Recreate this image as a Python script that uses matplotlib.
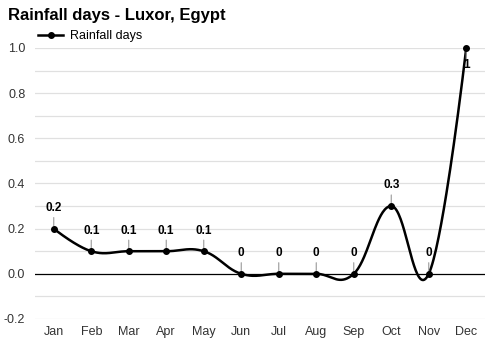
import numpy as np
import matplotlib
matplotlib.use("Agg")
import matplotlib.pyplot as plt
from matplotlib.lines import Line2D

plt.rcParams['font.family'] = ['Liberation Sans', 'DejaVu Sans']

months = ["Jan", "Feb", "Mar", "Apr", "May", "Jun", "Jul", "Aug", "Sep", "Oct", "Nov", "Dec"]
rain_days = [0.2, 0.1, 0.1, 0.1, 0.1, 0, 0, 0, 0, 0.3, 0, 1]
labels = ["0.2", "0.1", "0.1", "0.1", "0.1", "0", "0", "0", "0", "0.3", "0", "1"]
yticks = [-0.2, 0.0, 0.2, 0.4, 0.6, 0.8, 1.0]


def spline(xs, ys, n=40):
    xs = np.asarray(xs, float); ys = np.asarray(ys, float)
    s = 1.5; d = s + 1
    N = len(xs)
    lc = [(xs[i], ys[i]) for i in range(N)]
    rc = [(xs[i], ys[i]) for i in range(N)]
    for i in range(1, N - 1):
        lx = (s * xs[i] + xs[i - 1]) / d
        ly = (s * ys[i] + ys[i - 1]) / d
        rx = (s * xs[i] + xs[i + 1]) / d
        ry = (s * ys[i] + ys[i + 1]) / d
        corr = (ry - ly) * (rx - xs[i]) / (rx - lx) + ys[i] - ry
        lc[i] = (lx, ly + corr)
        rc[i] = (rx, ry + corr)
    px, py = [], []
    t = np.linspace(0, 1, n)
    for i in range(N - 1):
        p0 = np.array([xs[i], ys[i]]); p1 = np.array(rc[i])
        p2 = np.array(lc[i + 1]); p3 = np.array([xs[i + 1], ys[i + 1]])
        pts = ((1 - t) ** 3)[:, None] * p0 + (3 * (1 - t) ** 2 * t)[:, None] * p1 \
            + (3 * (1 - t) * t ** 2)[:, None] * p2 + (t ** 3)[:, None] * p3
        px.extend(pts[:, 0]); py.extend(pts[:, 1])
    return np.array(px), np.array(py)


fig = plt.figure(figsize=(5, 3.5), dpi=100)
ax = fig.add_axes([0.07, 0.0886, 0.90, 0.7744])

x = np.arange(len(months))
ax.set_xlim(-0.5, len(months) - 0.5)
ax.set_ylim(-0.2, 1.0)

for v in np.arange(-0.2, 1.01, 0.1):
    if abs(v) < 1e-9:
        continue
    ax.axhline(v, color="#e0e0e0", lw=0.9, zorder=0)
ax.axhline(0, color="#000000", lw=0.9, zorder=1)

sx, sy = spline(x, rain_days)
ax.plot(sx, sy, color="black", lw=1.8, zorder=3, clip_on=False)
ax.plot(x, rain_days, 'o', color="black", ms=4, zorder=4, clip_on=False)

for xi, yi, lab in zip(x, rain_days, labels):
    if yi >= 0.95:
        ax.annotate("", xy=(xi, yi), xytext=(0, -10), textcoords="offset points",
                    arrowprops=dict(arrowstyle="-", color="#999999", lw=0.8), annotation_clip=False)
        ax.annotate(lab, xy=(xi, yi), xytext=(0, -8), textcoords="offset points",
                    ha="center", va="top", fontsize=8.5, fontweight="bold", color="black",
                    annotation_clip=False, zorder=5)
    else:
        ax.annotate("", xy=(xi, yi), xytext=(0, 10), textcoords="offset points",
                    arrowprops=dict(arrowstyle="-", color="#999999", lw=0.8), annotation_clip=False)
        ax.annotate(lab, xy=(xi, yi), xytext=(0, 10.5), textcoords="offset points",
                    ha="center", va="bottom", fontsize=8.5, fontweight="bold", color="black",
                    annotation_clip=False, zorder=5)

ax.set_xticks(x)
ax.set_xticklabels(months)
ax.set_yticks(yticks)
ax.set_yticklabels([f"{v:.1f}" for v in yticks])
ax.tick_params(axis="both", length=0, labelsize=9, colors="#333333", pad=5)
ax.tick_params(axis="y", pad=7)
for sp in ax.spines.values():
    sp.set_visible(False)

fig.text(0.016, 0.957, "Rainfall days - Luxor, Egypt", fontsize=12, fontweight="bold",
         ha="left", va="center", color="black")

handle = Line2D([], [], color="black", lw=1.8, marker="o", ms=4)
fig.legend([handle], ["Rainfall days"], loc="center left", bbox_to_anchor=(0.064, 0.897),
           frameon=False, fontsize=9, handlelength=2.0, handletextpad=0.5, borderpad=0)

fig.savefig("out.png", dpi=100)
